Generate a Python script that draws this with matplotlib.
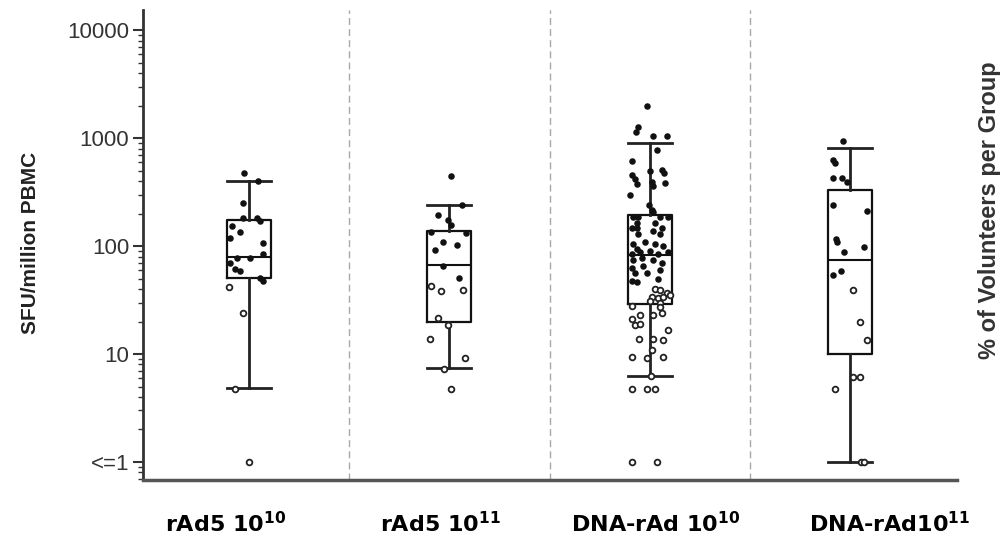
import numpy as np
import matplotlib
matplotlib.use('Agg')
import matplotlib.pyplot as plt
from matplotlib.ticker import NullFormatter

# Groups and box statistics (SFU / million PBMC)
groups = [r'rAd5 10$^{\mathbf{10}}$', r'rAd5 10$^{\mathbf{11}}$',
          r'DNA-rAd 10$^{\mathbf{10}}$', r'DNA-rAd10$^{\mathbf{11}}$']
whis_lo = [4.8, 7.5, 6.3, 1.0]
q1s = [51, 20, 29, 9.9]
medians = [80, 67, 83, 74]
q3s = [175, 138, 196, 328]
whis_hi = [405, 241, 900, 814]

# Individual volunteers (value, horizontal jitter in group units)
vals1 = [480, 400, 250, 182, 182, 171, 154, 136, 120, 106, 84, 77, 77, 70, 61, 59,
         51, 48, 42, 24, 4.7, 1]
jit1 = [-0.025, 0.045, -0.03, -0.03, 0.04, 0.055, -0.085, -0.045, -0.095, 0.07, 0.07,
        -0.06, 0.005, -0.095, -0.07, -0.045, 0.055, 0.07, -0.1, -0.03, -0.07, 0.0]

vals2 = [445, 241, 196, 173, 156, 136, 132, 109, 102, 92, 66, 51, 43, 38, 39, 21.5,
         18.7, 13.7, 9.2, 7.3, 4.7]
jit2 = [0.01, 0.065, -0.055, -0.005, 0.01, -0.09, 0.085, -0.03, 0.04, -0.07, -0.03,
        0.05, -0.09, -0.04, 0.07, -0.055, -0.005, -0.095, 0.08, -0.025, 0.01]

vals3 = [2005, 1270, 1130, 1055, 1055, 775, 608, 495, 512, 478, 453, 417, 376, 389,
         358, 384, 295, 240, 216, 188, 188, 206, 188, 188, 164, 148, 148, 164, 148,
         129, 129, 138, 105, 95, 109, 105, 101, 85, 88, 91, 85, 88, 74, 77, 74, 69,
         63, 65, 56, 56, 60, 50, 48, 46,
         40, 39, 37, 34, 33, 34, 35, 31, 30, 28, 27, 23, 23, 24, 21, 18.5, 19, 16.8,
         13.7, 13.7, 13.6, 9.4, 9.2, 10.9, 9.4, 6.2, 4.7, 4.7, 4.7, 1, 1]
jit3 = [-0.015, -0.06, -0.07, 0.015, 0.085, 0.035, -0.09, 0.0, 0.06, 0.07, -0.09,
        -0.075, -0.065, 0.01, 0.015, 0.075, -0.1, -0.005, 0.01, -0.085, -0.06, 0.015,
        0.05, 0.09, -0.065, -0.09, -0.065, 0.025, 0.06, -0.06, 0.05, 0.015, -0.085,
        -0.065, -0.025, 0.025, 0.065, -0.09, -0.05, 0.0, 0.04, 0.09, -0.085, -0.04,
        0.015, 0.06, -0.09, -0.035, -0.075, -0.015, 0.05, 0.04, -0.09, -0.065,
        0.025, 0.05, 0.085, 0.01, 0.04, 0.065, 0.1, 0.0, 0.05, -0.09, 0.05, -0.05,
        0.015, 0.06, -0.09, -0.075, -0.05, 0.09, -0.055, 0.015, 0.065, -0.09, -0.015,
        0.01, 0.065, 0.005, -0.09, -0.015, 0.025, -0.09, 0.035]

vals4 = [950, 627, 590, 424, 430, 395, 241, 210, 117, 109, 99, 88, 54, 59, 39, 19.7,
         13.5, 6.1, 6.1, 4.7, 1, 1]
jit4 = [-0.035, -0.085, -0.075, -0.085, -0.04, -0.015, -0.085, 0.085, -0.07, -0.065,
        0.07, -0.03, -0.085, -0.045, 0.015, 0.05, 0.085, 0.015, 0.05, -0.075, 0.055,
        0.07]

ytick_vals = [1, 10, 100, 1000, 10000]
ytick_labels = ['<=1', '10', '100', '1000', '10000']
label_x = [-0.115, 0.954, 2.032, 3.2]

fig = plt.figure(figsize=(10.05, 5.44), dpi=100)
ax = fig.add_axes([0.1423, 0.1176, 0.81, 0.864])
ax.set_yscale('log')
ax.set_ylim(0.68, 15400)
ax.set_xlim(-0.529, 3.534)

# group separators
for sep in [0.5, 1.5, 2.5]:
    ax.axvline(sep, color='#a8a8a8', lw=1, ls=(0, (5, 3)), zorder=0)

stats = []
for lo, a, m, b, hi in zip(whis_lo, q1s, medians, q3s, whis_hi):
    stats.append(dict(whislo=lo, q1=a, med=m, q3=b, whishi=hi, fliers=[]))
ax.bxp(stats, positions=range(4), widths=0.22, capwidths=0.22, showfliers=False,
       boxprops=dict(color='#111111', lw=1.6),
       whiskerprops=dict(color='#222222', lw=2),
       capprops=dict(color='#222222', lw=2),
       medianprops=dict(color='#111111', lw=1.5))

for i, (v, j) in enumerate([(vals1, jit1), (vals2, jit2), (vals3, jit3), (vals4, jit4)]):
    v = np.array(v, dtype=float)
    x = i + np.array(j)
    full = v >= 45
    ax.scatter(x[full], v[full], s=22, color='#111111', lw=0, zorder=3)
    ax.scatter(x[~full], v[~full], s=17, facecolors='white', edgecolors='#222222',
               lw=1.3, zorder=3)

for side in ['top', 'right']:
    ax.spines[side].set_visible(False)
ax.spines['left'].set_color('#333333')
ax.spines['left'].set_linewidth(2)
ax.spines['bottom'].set_color('#555555')
ax.spines['bottom'].set_linewidth(2.5)

ax.set_yticks(ytick_vals, labels=ytick_labels)
ax.yaxis.set_minor_formatter(NullFormatter())
ax.tick_params(axis='y', which='major', length=7, width=1.5, color='#333333', pad=3,
               labelsize=16, labelcolor='#333333')
ax.tick_params(axis='y', which='minor', length=3.5, width=1, color='#333333')
for t in ax.get_yticklabels():
    t.set_family('Liberation Sans')

ax.set_xticks(label_x, labels=groups)
ax.tick_params(axis='x', length=0, pad=22, labelsize=16)
for t in ax.get_xticklabels():
    t.set_family('DejaVu Sans')
    t.set_fontweight('bold')

fig.text(30 / 1005, 1 - 243 / 544, 'SFU/million PBMC', rotation=90, ha='center',
         va='center', fontsize=15, fontweight='bold', family='Liberation Sans',
         color='#222222')
fig.text(978 / 1005, 1 - 210 / 544, '% of Volunteers per Group', rotation=90,
         ha='left', va='center', fontsize=17, fontweight='bold',
         family='Liberation Sans', color='#333333')

fig.savefig('out.png', dpi=100)
